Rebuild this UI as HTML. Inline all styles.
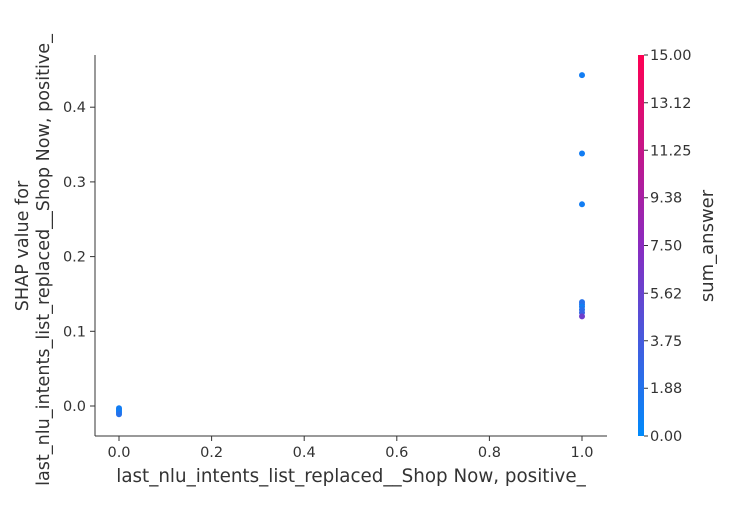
<!DOCTYPE html>
<html><head><style>body{margin:0;background:#fff}svg{font-family:"DejaVu Sans","Liberation Sans",sans-serif}</style></head>
<body>
<svg id="c" width="750" height="500">
<defs><linearGradient id="g" x1="0" y1="1" x2="0" y2="0"><stop offset="0" stop-color="#008afb"/><stop offset="0.5" stop-color="#8a2bc0"/><stop offset="1" stop-color="#ff0052"/></linearGradient></defs>
</svg>
<script>
const xVals=[1,1,1,1,1,1,1,1,1,0,0,0,0,0];
const yVals=[0.443,0.338,0.270,0.139,0.136,0.133,0.129,0.125,0.120,-0.003,-0.005,-0.007,-0.009,-0.011];
const cVals=[1,1,1,2,2,1,2,3,6,1,1,1,1,2];
const xTicks=[0,0.2,0.4,0.6,0.8,1.0];
const yTicks=[0,0.1,0.2,0.3,0.4];
const cTicks=["0.00","1.88","3.75","5.62","7.50","9.38","11.25","13.12","15.00"];
const svg=document.getElementById('c');const NS='http://www.w3.org/2000/svg';
const X=v=>119+v*463, Y=v=>406-v*747, CY=v=>436-v/15*381;
function el(t,a,txt){const e=document.createElementNS(NS,t);for(const k in a)e.setAttribute(k,a[k]);if(txt!=null)e.textContent=txt;svg.appendChild(e);return e;}
function col(v){const t=v/15;const a=[0,138,251],b=[138,43,192],c=[255,0,82];let p,q,s;if(t<.5){p=a;q=b;s=t*2}else{p=b;q=c;s=(t-.5)*2}return`rgb(${p.map((x,i)=>Math.round(x+(q[i]-x)*s)).join(',')})`;}
let e=el('line',{x1:95,y1:55,x2:95,y2:436,stroke:'#333','stroke-width':1});

e=el('line',{x1:95,y1:436,x2:607,y2:436,stroke:'#333','stroke-width':1});

xTicks.forEach(v=>{el('line',{x1:X(v),y1:436,x2:X(v),y2:441,stroke:'#333'});
 const t=el('text',{x:X(v),y:457,'text-anchor':'middle','font-size':14.5,fill:'#333'},v.toFixed(1));
 });
yTicks.forEach(v=>{el('line',{x1:90,y1:Y(v),x2:95,y2:Y(v),stroke:'#333'});
 const t=el('text',{x:86,y:Y(v)+5,'text-anchor':'end','font-size':14.5,fill:'#333'},v.toFixed(1));
 });
e=el('text',{x:351,y:482,'text-anchor':'middle','font-size':18.3,fill:'#333'},'last_nlu_intents_list_replaced__Shop Now, positive_');

e=el('text',{transform:'translate(28,246) rotate(-90)','text-anchor':'middle','font-size':17.6,fill:'#333'},'SHAP value for');

e=el('text',{transform:'translate(49,260) rotate(-90)','text-anchor':'middle','font-size':17.6,fill:'#333'},'last_nlu_intents_list_replaced__Shop Now, positive_');

xVals.forEach((x,i)=>{const p=el('ellipse',{cx:X(x),cy:Y(yVals[i]),rx:3,ry:3,fill:col(cVals[i])});
 });
e=el('rect',{x:638,y:55,width:6,height:381,fill:'url(#g)'});

cTicks.forEach(s=>{const v=parseFloat(s);el('line',{x1:644,y1:CY(v),x2:648,y2:CY(v),stroke:'#333'});
 const t=el('text',{x:650,y:CY(v)+5,'font-size':14.5,fill:'#333'},s);
 });
e=el('text',{transform:'translate(713,246) rotate(-90)','text-anchor':'middle','font-size':18,fill:'#333'},'sum_answer');

</script>
</body></html>
